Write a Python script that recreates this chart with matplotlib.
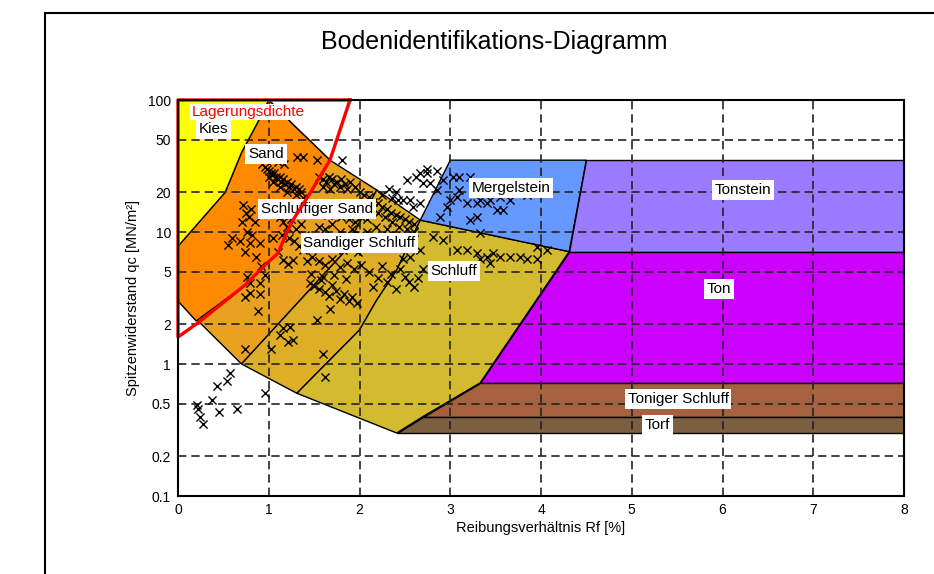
import matplotlib
matplotlib.use("Agg")
import matplotlib.pyplot as plt
from matplotlib.patches import Polygon
from matplotlib.lines import Line2D

plt.rcParams['font.family'] = ['Liberation Sans', 'DejaVu Sans']

# ---------------- data ----------------
title = "Bodenidentifikations-Diagramm"
x_label = "Reibungsverhältnis Rf [%]"
y_label = "Spitzenwiderstand qc [MN/m²]"
x_ticks = [0, 1, 2, 3, 4, 5, 6, 7, 8]
y_ticks = [0.1, 0.2, 0.5, 1, 2, 5, 10, 20, 50, 100]
y_tick_labels = ["0.1", "0.2", "0.5", "1", "2", "5", "10", "20", "50", "100"]

# soil zones (Rf [%], qc [MN/m2])
kies_rf = [0, 1.0, 0.88, 0.70, 0.52, 0]
kies_qc = [100, 100, 68, 40, 20, 7.8]

schluffsand_rf = [0, 0.52, 0.70, 0.88, 1.0, 1.27, 1.675, 2.19, 1.82, 0.70, 0]
schluffsand_qc = [7.8, 20, 40, 68, 100, 65, 35, 20.8, 6.9, 1.0, 3.0]

sand_rf = [0, 0.52, 0.70, 0.88, 1.0, 1.27, 1.675, 1.455, 1.267, 1.212, 1.102, 0.992, 0.738, 0.20, 0]
sand_qc = [7.8, 20, 40, 68, 100, 65, 35, 19.7, 12.3, 10.4, 6.9, 5.9, 3.96, 2.12, 3.0]

sandschluff_rf = [0.70, 1.82, 2.19, 2.67, 2.41, 2.19, 2.0, 1.31]
sandschluff_qc = [1.0, 6.9, 20.8, 12.3, 5.15, 3.05, 1.81, 0.6]

schluff_rf = [1.31, 2.0, 2.19, 2.41, 2.67, 4.31, 3.33, 2.70, 2.41]
schluff_qc = [0.6, 1.81, 3.05, 5.15, 12.3, 7.1, 0.72, 0.4, 0.3]

mergel_rf = [3.0, 4.5, 4.31, 2.67]
mergel_qc = [35, 35, 7.1, 12.3]

tonstein_rf = [4.5, 8, 8, 4.31]
tonstein_qc = [35, 35, 7.1, 7.1]

ton_rf = [4.31, 8, 8, 3.33]
ton_qc = [7.1, 7.1, 0.72, 0.72]

tonschluff_rf = [3.33, 8, 8, 2.70]
tonschluff_qc = [0.72, 0.72, 0.4, 0.4]

torf_rf = [2.70, 8, 8, 2.41]
torf_qc = [0.4, 0.4, 0.3, 0.3]

# Lagerungsdichte boundary (red)
lager_rf = [1.895, 1.675, 1.455, 1.267, 1.212, 1.102, 0.992, 0.738, 0.22, 0, 0, 1.895]
lager_qc = [100, 35.1, 19.7, 12.3, 10.4, 6.9, 5.9, 3.96, 2.05, 1.60, 100, 100]

# zone labels
label_names = ["Kies", "Sand", "Schluffiger Sand", "Sandiger Schluff", "Schluff",
               "Mergelstein", "Tonstein", "Ton", "Toniger Schluff", "Torf"]
label_rf = [0.39, 0.97, 1.53, 2.0, 3.04, 3.67, 6.23, 5.96, 5.51, 5.28]
label_qc = [60, 39, 14.9, 8.26, 5.07, 21.5, 20.8, 3.7, 0.543, 0.345]
lager_label = "Lagerungsdichte"
lager_label_rf = 0.77
lager_label_qc = 81

# measured points
meas_rf = [
    # low, white area
    0.21, 0.22, 0.24, 0.28, 0.37, 0.45, 0.65, 0.43, 0.54, 0.57, 0.96, 0.74, 1.03,
    # sand band
    0.93, 0.96, 0.98, 1.0, 1.02, 1.04, 1.06, 1.08, 1.10, 1.12, 1.14, 1.16, 1.18, 1.2, 1.22,
    1.25, 1.28, 1.3, 1.33, 1.36, 1.0, 1.05, 1.12, 1.2, 1.3, 1.38, 0.97, 1.1, 1.17, 1.31,
    1.38, 1.53, 1.81, 1.55, 1.6, 1.63, 1.66, 1.7, 1.72, 1.75, 1.78, 1.8, 1.84, 1.86, 1.6,
    1.68, 1.9, 1.95,
    # sand column
    0.72, 0.75, 0.78, 0.8, 0.85, 0.7, 0.76, 0.82, 0.68, 0.79, 0.9, 0.74, 0.86, 0.92, 0.76,
    0.79, 0.74, 0.9, 0.9, 0.88, 0.79, 0.96, 0.6, 0.55,
    # middle
    1.12, 1.16, 1.2, 1.25, 1.3, 1.35, 1.15, 1.22, 1.28, 1.33, 1.38, 1.16, 1.27, 1.21, 1.42,
    1.1, 1.05, 1.4,
    # dense
    1.5, 1.58, 1.65, 1.72, 1.8, 1.88, 1.95, 2.02, 1.55, 1.62, 1.7, 1.78, 1.85, 1.92, 2.0,
    2.08, 1.5, 1.58, 1.66, 1.74, 1.82, 1.9, 1.98, 2.06, 1.48, 1.55, 1.62, 1.7, 1.78, 1.86,
    1.94, 2.02, 1.45, 1.5, 1.55, 1.58, 1.62, 1.66, 1.7, 1.74, 1.78, 1.83, 1.88, 1.92, 1.97,
    1.67, 1.53, 1.12, 1.16, 1.23, 1.21, 1.27, 1.62, 1.47, 1.6, 1.72, 1.85,
    # band along upper boundary
    2.0, 2.05, 2.1, 2.15, 2.2, 2.25, 2.3, 2.35, 2.4, 2.45, 2.5, 2.55, 2.6, 2.12, 2.2, 2.28,
    2.36, 2.44, 2.52, 2.6, 2.08, 2.18, 2.3, 2.4, 2.25, 2.32, 2.4, 2.36, 2.42,
    # white area top
    2.52, 2.67, 2.7, 2.78, 2.59, 2.56, 2.67, 2.48, 2.62, 2.74, 2.85,
    # Mergelstein
    2.74, 2.92, 3.03, 3.1, 3.0, 3.18, 3.29, 3.4, 3.51, 3.58, 3.66, 3.55, 3.29, 3.22, 3.33,
    3.07, 2.96, 2.89, 2.85, 3.1, 3.22, 3.33, 3.44, 3.85,
    # Schluff band
    2.81, 2.92, 3.07, 3.18, 3.29, 3.4, 3.47, 3.55, 3.66, 3.77, 3.96, 4.07, 3.96, 3.85, 3.44,
    3.33, 2.67, 2.56, 2.48, 2.7, 2.45, 2.5, 2.55, 2.6, 2.65, 2.35, 2.3, 2.2, 2.4, 2.25, 2.1,
    2.15, 1.6,
]
meas_qc = [
    0.49, 0.46, 0.40, 0.35, 0.53, 0.43, 0.46, 0.68, 0.74, 0.86, 0.60, 1.3, 1.3,
    33, 31, 30, 29, 28, 27, 28, 26, 25, 26, 24, 25, 23, 24, 22,
    23, 21, 22, 21, 20, 26, 24, 22, 20, 19, 18, 35, 34, 33, 37,
    37, 35, 35, 26, 25, 24, 26, 25, 23, 24, 22, 25, 23, 21, 22,
    21, 24, 22,
    16, 14, 13, 15, 12, 12, 10, 9.5, 8.5, 8.2, 8.2, 7, 6.5, 5.5, 4.6,
    3.45, 3.2, 3.4, 4.1, 2.5, 4.1, 4.7, 9, 8,
    13, 12, 11, 12.5, 10.5, 11.5, 9.5, 9, 8.5, 7.8, 7.3, 6.1, 6.1, 5.7, 6,
    7, 9, 9.5,
    15, 14, 13.5, 14, 13, 12.5, 12, 13, 11, 10.5, 11.5, 10, 9.5, 10.5, 9.5,
    10, 8.5, 8, 7.5, 8.2, 7.3, 7.8, 7, 7.5, 6.5, 6, 5.6, 6.2, 5.4, 5.8,
    5.2, 5.6, 4.1, 3.9, 3.7, 4.3, 3.5, 3.3, 4.0, 3.6, 3.1, 3.4, 3.0, 3.2, 2.9,
    2.6, 2.15, 1.66, 1.88, 1.9, 1.48, 1.52, 0.8, 4.8, 4.6, 4.7, 4.4,
    20, 19, 18.5, 17, 16.5, 15.5, 15, 14, 13.5, 13, 12.5, 12, 11.5, 15, 14, 13,
    12, 11, 10.5, 10, 12.5, 11, 10.5, 9.5, 19, 21, 20, 18, 17.5,
    24.8, 28, 23.5, 23.5, 15.5, 17.5, 16.6, 17.5, 26, 30, 29,
    28, 24.8, 26, 20.8, 17.5, 16.6, 16.6, 16.6, 14.7, 14.7, 17.5, 18.4, 13, 12.3, 9.8,
    18.4, 15.5, 13, 20.8, 26, 26, 17.5, 17.5, 19,
    9.2, 8.7, 7.3, 7.3, 6.9, 6.5, 6.9, 6.5, 6.5, 6.5, 7.7, 7.3, 6.2, 6.2, 5.8,
    6.2, 7.3, 6.5, 6.2, 5.2, 5.2, 4.6, 4.2, 3.8, 4.5, 4.8, 4.2, 4.5, 3.7, 5.5, 5.0,
    3.8, 1.2,
]

# ---------------- figure ----------------
W, H = 934, 574
fig = plt.figure(figsize=(W / 100, H / 100), dpi=100)
ax = fig.add_axes([178 / W, 1 - 496 / H, (904 - 178) / W, (496 - 100) / H])

zones = [
    (schluffsand_rf, schluffsand_qc, "#E9A21F"),
    (sand_rf, sand_qc, "#FF8A00"),
    (kies_rf, kies_qc, "#FFFF00"),
    (sandschluff_rf, sandschluff_qc, "#DDAE26"),
    (schluff_rf, schluff_qc, "#D4BA2E"),
    (mergel_rf, mergel_qc, "#6699FF"),
    (tonstein_rf, tonstein_qc, "#9B7BFF"),
    (ton_rf, ton_qc, "#CC00FF"),
    (tonschluff_rf, tonschluff_qc, "#A6623E"),
    (torf_rf, torf_qc, "#7C5F3E"),
]
for rf, qc, col in zones:
    ax.add_patch(Polygon(list(zip(rf, qc)), closed=True, facecolor=col,
                         edgecolor="black", linewidth=1.0, zorder=1))

ax.scatter(meas_rf, meas_qc, marker="x", s=34, c="black", linewidths=1.0, zorder=3)

ax.plot(lager_rf, lager_qc, color="#FF0000", linewidth=2.4, zorder=6, clip_on=False)

for name, x, y in zip(label_names, label_rf, label_qc):
    ax.text(x, y, name, ha="center", va="center", fontsize=11, zorder=5,
            bbox=dict(facecolor="white", edgecolor="none", pad=2.0))
ax.text(lager_label_rf, lager_label_qc, lager_label, ha="center", va="center",
        fontsize=11, color="#FF0000", zorder=5,
        bbox=dict(facecolor="white", edgecolor="none", pad=1.0))

ax.set_yscale("log")
ax.set_xlim(0, 8)
ax.set_ylim(0.1, 100)
ax.set_xticks(x_ticks)
ax.set_xticklabels([str(v) for v in x_ticks])
ax.set_yticks(y_ticks)
ax.set_yticklabels(y_tick_labels)
ax.minorticks_off()
ax.tick_params(length=0, labelsize=10, pad=5)
ax.set_axisbelow(False)
ax.grid(True, color="#222222", linestyle=(0, (5, 3)), linewidth=1.2)
for s in ax.spines.values():
    s.set_linewidth(1.5)
    s.set_zorder(7)

ax.set_xlabel(x_label, fontsize=10.5, labelpad=3)
ax.set_ylabel(y_label, fontsize=10.5, labelpad=6)

fig.text(494 / W, 1 - 42 / H, title, ha="center", va="center", fontsize=18)

# outer frame
fig.add_artist(Line2D([45 / W, 45 / W], [0, 1 - 13 / H], color="black", linewidth=1.5,
                      transform=fig.transFigure))
fig.add_artist(Line2D([45 / W, 1], [1 - 13 / H, 1 - 13 / H], color="black", linewidth=1.5,
                      transform=fig.transFigure))

fig.savefig("out.png", dpi=100)
